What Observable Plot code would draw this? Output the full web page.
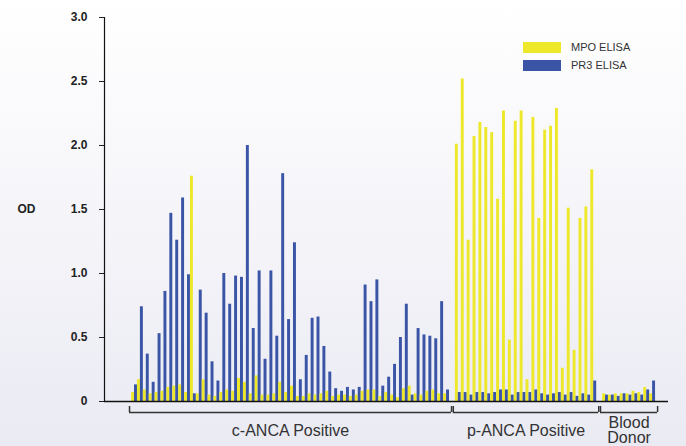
<!DOCTYPE html>
<html>
<head>
<meta charset="utf-8">
<script src="https://cdn.jsdelivr.net/npm/d3@7"></script>
<script src="https://cdn.jsdelivr.net/npm/@observablehq/plot@0.6"></script>
<style>
  html, body { margin: 0; padding: 0; }
  body {
    width: 686px; height: 446px; overflow: hidden;
    background: linear-gradient(180deg, #ffffff 0%, #f8f8fb 35%, #eaeaf3 100%);
    font-family: "Liberation Sans", Arial, sans-serif;
  }
  #wrap { position: relative; width: 686px; height: 446px; }
  #chart svg { display: block; background: transparent; overflow: visible; }
  .legend { position: absolute; left: 523px; top: 38px; font-size: 11px; color: #333; }
  .legend .row { display: flex; align-items: center; height: 18px; }
  .legend .sw { width: 38px; height: 11px; margin-right: 10px; }
</style>
</head>
<body>
<div id="wrap">
  <div id="chart"></div>
  <div class="legend">
    <div class="row"><div class="sw" style="background:#eee82a"></div><span>MPO ELISA</span></div>
    <div class="row"><div class="sw" style="background:#3b55a6"></div><span>PR3 ELISA</span></div>
  </div>
</div>
<script>
// ---- data (OD values) ----
const groupNames = ["c-ANCA Positive", "p-ANCA Positive", "Blood\nDonor"];
const seriesNames = ["MPO ELISA", "PR3 ELISA"];
const seriesColors = ["#eee82a", "#3b55a6"];
const yTicks = [0, 0.5, 1.0, 1.5, 2.0, 2.5, 3.0];

const mpoCANCA = [0.07,0.17,0.09,0.06,0.07,0.08,0.11,0.12,0.13,0.07,
                  1.76,0.06,0.17,0.05,0.04,0.07,0.09,0.08,0.18,0.15,
                  0.06,0.20,0.05,0.05,0.06,0.15,0.07,0.12,0.04,0.04,
                  0.06,0.05,0.06,0.08,0.04,0.05,0.05,0.04,0.05,0.08,
                  0.09,0.09,0.04,0.07,0.05,0.03,0.10,0.12,0.06,0.05,
                  0.08,0.09,0.06,0.06];
const pr3CANCA = [0.13,0.74,0.37,0.15,0.53,0.86,1.47,1.26,1.59,0.99,
                  0.06,0.87,0.69,0.31,0.16,1.00,0.76,0.98,0.97,2.00,
                  0.57,1.02,0.33,1.02,0.51,1.78,0.64,1.24,0.17,0.36,
                  0.65,0.66,0.43,0.23,0.10,0.08,0.11,0.09,0.11,0.91,
                  0.78,0.95,0.12,0.19,0.29,0.50,0.76,0.05,0.57,0.52,
                  0.51,0.49,0.78,0.09];
const mpoPANCA = [2.01,2.52,1.26,2.07,2.18,2.14,2.10,1.58,2.27,0.48,
                  2.19,2.27,0.17,2.22,1.43,2.12,2.15,2.29,0.26,1.51,
                  0.40,1.43,1.52,1.81];
const pr3PANCA = [0.07,0.07,0.05,0.07,0.07,0.06,0.07,0.09,0.09,0.05,
                  0.07,0.07,0.07,0.09,0.06,0.05,0.06,0.07,0.05,0.07,
                  0.04,0.06,0.05,0.16];
const mpoDonor = [0.06,0.05,0.06,0.06,0.06,0.08,0.07,0.11,0.06];
const pr3Donor = [0.05,0.05,0.04,0.06,0.05,0.06,0.05,0.09,0.16];

// ---- build tables ----
const groupSeries = [[mpoCANCA, pr3CANCA], [mpoPANCA, pr3PANCA], [mpoDonor, pr3Donor]];
const bars = [];
const groups = [];
let slot = 0;
groupSeries.forEach((pair, g) => {
  const start = slot;
  pair[0].forEach((_, i) => {
    pair.forEach((vals, s) => {
      bars.push({group: groupNames[g], series: seriesNames[s], x1: slot + i + s * 0.5, x2: slot + i + (s + 1) * 0.5, od: vals[i]});
    });
  });
  slot += pair[0].length;
  groups.push({name: groupNames[g], start: start - 0.35, end: slot + 0.35, mid: (start + slot) / 2});
  slot += 1; // empty slot between groups
});
const total = slot - 1;
const xMin = -4.6, xMax = total + 2.2;

const width = 686, height = 446, marginTop = 17, marginBottom = 45;
const unit = (height - marginTop - marginBottom) / 3; // px per OD unit
const px = p => -p / unit; // pixel offset below baseline, in OD units

const ends = groups.flatMap(d => [d.start, d.end]);

const chart = Plot.plot({
  width, height,
  marginLeft: 104, marginRight: 18, marginTop, marginBottom,
  style: {fontFamily: "'Liberation Sans', Arial, sans-serif", background: "transparent", overflow: "visible"},
  x: {type: "linear", domain: [xMin, xMax], axis: null},
  y: {domain: [0, 3], axis: null},
  color: {domain: seriesNames, range: seriesColors},
  marks: [
    Plot.rectY(bars, {x1: "x1", x2: "x2", y: "od", fill: "series", inset: 0}),
    Plot.axisY({ticks: yTicks, tickSize: 5, tickPadding: 12, label: null,
      tickFormat: d => d === 0 ? "0" : d.toFixed(1),
      fontSize: 12, fontWeight: "bold", color: "#222", letterSpacing: 1}),
    Plot.ruleX([xMin], {y1: 0, y2: 3, stroke: "#111", strokeWidth: 1.2}),
    Plot.ruleY([0], {stroke: "#111", strokeWidth: 1.6}),
    Plot.text(["OD"], {x: xMin, y: 1.5, dx: -78, text: d => d, fontSize: 12, fontWeight: "bold", fill: "#222", letterSpacing: 1.5}),
    // group brackets
    Plot.ruleY(groups, {x1: "start", x2: "end", y: px(11), stroke: "#333", strokeWidth: 1.5}),
    Plot.ruleX(ends, {x: d => d, y1: px(5), y2: px(11), stroke: "#333", strokeWidth: 1.5}),
    Plot.text(groups, {x: "mid", y: px(29), text: "name", fontSize: 16, fill: "#333", lineHeight: 0.98,
      lineAnchor: "middle"})
  ]
});
document.getElementById("chart").appendChild(chart);
</script>
</body>
</html>
